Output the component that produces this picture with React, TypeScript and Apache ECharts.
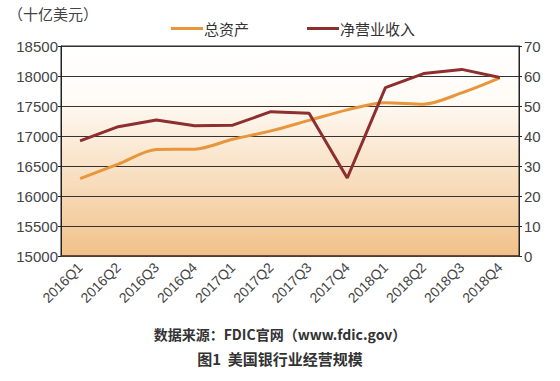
import React, { useEffect, useRef } from "react";
import * as echarts from "echarts";

const categories = ["2016Q1","2016Q2","2016Q3","2016Q4","2017Q1","2017Q2","2017Q3","2017Q4","2018Q1","2018Q2","2018Q3","2018Q4"];
const totalAssets = [16290, 16530, 16775, 16780, 16945, 17085, 17260, 17435, 17555, 17530, 17720, 17970];
const netRevenue = [38.4, 43.1, 45.3, 43.4, 43.6, 48.1, 47.6, 26.0, 56.1, 60.8, 62.2, 59.5];
const leftTicks = { min: 15000, max: 18500, interval: 500 };
const rightTicks = { min: 0, max: 70, interval: 10 };

export default function App() {
  const ref = useRef<HTMLDivElement>(null);
  useEffect(() => {
    const chart = echarts.init(ref.current!, null, { renderer: "svg" });
    const font = "'Liberation Sans', Arial, sans-serif";
    chart.setOption({
      animation: false,
      backgroundColor: "#ffffff",
      textStyle: { fontFamily: font },
      grid: {
        left: 61, right: 41, top: 46, height: 210,
        show: true,
        borderColor: "#222",
        borderWidth: 1,
        backgroundColor: new echarts.graphic.LinearGradient(0, 0, 0, 1, [
          { offset: 0, color: "#ffffff" },
          { offset: 0.25, color: "#fffbf6" },
          { offset: 1, color: "#f1c189" },
        ]),
      },
      legend: {
        top: 16,
        left: 166,
        itemGap: 58,
        itemWidth: 32,
        itemHeight: 10,
        textStyle: { fontSize: 15, color: "#333", fontFamily: "'Noto Sans CJK SC', sans-serif", padding: [0, 0, 0, -4] },
        icon: "path://M0,4 L32,4 L32,7 L0,7 Z",
        data: ["总资产", "净营业收入"],
      },
      graphic: [
        { type: "text", left: 8, top: 6, style: { text: "（十亿美元）", fill: "#444", font: "15px 'Noto Sans CJK SC', sans-serif" } },
        { type: "text", left: "center", top: 327, style: { text: "数据来源：FDIC官网（www.fdic.gov）", fill: "#333", font: "bold 14px 'Noto Sans CJK SC', sans-serif" } },
        { type: "text", left: "center", top: 351, style: { text: "图1  美国银行业经营规模", fill: "#333", font: "bold 15px 'Noto Sans CJK SC', sans-serif" } },
      ],
      xAxis: {
        type: "category",
        data: categories,
        boundaryGap: true,
        axisLine: { show: true, lineStyle: { color: "#5a4030", width: 1.5 } },
        axisTick: { show: false },
        axisLabel: { rotate: 45, fontSize: 14, color: "#444", margin: 9, interval: 0 },
      },
      yAxis: [
        {
          type: "value",
          ...leftTicks,
          axisLine: { show: true, lineStyle: { color: "#222" } },
          axisTick: { show: true, length: 3, lineStyle: { color: "#222" } },
          axisLabel: { fontSize: 15, color: "#444", margin: 3, formatter: (v: number) => String(v) },
          splitLine: { show: true, lineStyle: { color: "#333", width: 1 } },
        },
        {
          type: "value",
          ...rightTicks,
          position: "right",
          axisLine: { show: true, lineStyle: { color: "#222" } },
          axisTick: { show: true, length: 3, lineStyle: { color: "#222" } },
          axisLabel: { fontSize: 15, color: "#444", margin: 5 },
          splitLine: { show: false },
        },
      ],
      series: [
        {
          name: "总资产",
          type: "line",
          data: totalAssets,
          yAxisIndex: 0,
          smooth: 0.3,
          symbol: "none",
          lineStyle: { color: "#e8963c", width: 3 },
          itemStyle: { color: "#e8963c" },
        },
        {
          name: "净营业收入",
          type: "line",
          data: netRevenue,
          yAxisIndex: 1,
          symbol: "none",
          lineStyle: { color: "#8e2e2e", width: 3 },
          itemStyle: { color: "#8e2e2e" },
        },
      ],
    });
    return () => chart.dispose();
  }, []);
  return <div ref={ref} style={{ width: 560, height: 381, position: "absolute", left: 0, top: 0 }} />;
}
